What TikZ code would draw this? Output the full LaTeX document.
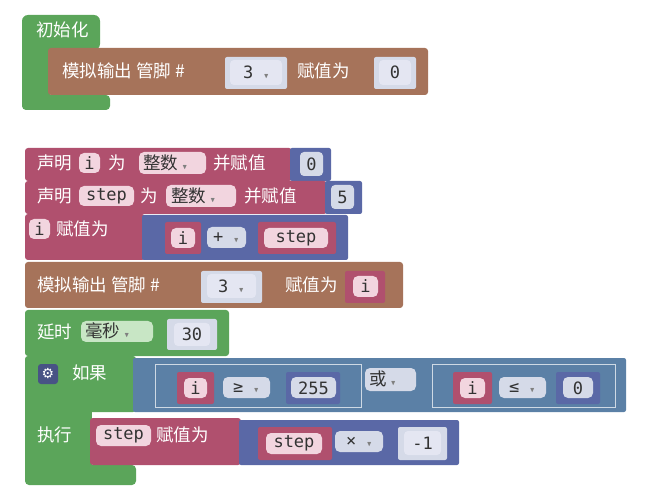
\documentclass[tikz,border=0pt]{standalone}
\usepackage{amssymb}
\usepackage{fontspec}
\setmainfont{Noto Sans CJK SC}
\newfontfamily\mono{DejaVu Sans Mono}
\newfontfamily\dvs{DejaVu Sans}
\definecolor{mag}{HTML}{B0506E}
\definecolor{blu}{HTML}{5A68A6}
\definecolor{brn}{HTML}{A6735A}
\definecolor{grn}{HTML}{5BA55A}
\definecolor{ifblu}{HTML}{5B80A6}
\definecolor{pinkf}{HTML}{F2D5DF}
\definecolor{greyf}{HTML}{D5DAE8}
\definecolor{bluf}{HTML}{E4E6F2}
\definecolor{grnf}{HTML}{C8E6C5}
\newcommand{\dd}{{\scriptsize\color{gray}$\blacktriangledown$}}
\begin{document}
\begin{tikzpicture}[x=1pt,y=-1pt,
  lbl/.style={text=white,font=\fontsize{17.5}{17.5}\selectfont,anchor=west,inner sep=0},
  ftxt/.style={font=\mono\fontsize{17}{17}\selectfont,text=black!80,inner sep=0}]
\useasboundingbox (0,0) rectangle (649,500);
% init
\fill[grn,rounded corners=6pt] (22,15) rectangle (100,50);
\fill[grn,rounded corners=6pt] (22,40) rectangle (50,110);
\fill[grn,rounded corners=4pt] (22,95) rectangle (110,110);
\node[lbl] (init) at (36,30) {初始化};
\fill[brn,rounded corners=3pt] (48,48) rectangle (428,95);
\node[lbl] (ao1) at (62,71) {模拟输出 管脚 \#};
\fill[greyf,rounded corners=2pt] (225,57) rectangle (287,89);
\fill[bluf,rounded corners=4pt] (230,60) rectangle (282,85);
\node[ftxt] (p1) at (256,72) {3 \dd};
\node[lbl] (as1) at (297,71) {赋值为};
\fill[greyf,rounded corners=2pt] (374,57) rectangle (416,89);
\fill[bluf,rounded corners=4pt] (379,60) rectangle (411,85);
\node[ftxt] (v1) at (395,72) {0};
% declare i
\fill[mag,rounded corners=3pt] (25,148) rectangle (292,181);
\fill[blu,rounded corners=2pt] (290,148) rectangle (331,181);
\node[lbl] (d1) at (37,163) {声明};
\fill[pinkf,rounded corners=5pt] (79,153) rectangle (100,173);
\node[ftxt] (d1i) at (89.5,163) {i};
\node[lbl] (d1w) at (108,163) {为};
\fill[pinkf,rounded corners=5pt] (139,152) rectangle (206,174);
\node[lbl,text=black!80] (d1t) at (143,163) {整数 \dd};
\node[lbl] (d1a) at (213,163) {并赋值};
\fill[greyf,rounded corners=4pt] (300,152) rectangle (323,176);
\node[ftxt] (d1v) at (311.5,164) {0};
% declare step
\fill[mag,rounded corners=3pt] (25,181) rectangle (327,214);
\fill[blu,rounded corners=2pt] (325,181) rectangle (362,214);
\node[lbl] (d2) at (37,196) {声明};
\fill[pinkf,rounded corners=5pt] (79,186) rectangle (134,206);
\node[ftxt] (d2s) at (106.5,196) {step};
\node[lbl] (d2w) at (140,196) {为};
\fill[pinkf,rounded corners=5pt] (166,185) rectangle (236,207);
\node[lbl,text=black!80] (d2t) at (171,196) {整数 \dd};
\node[lbl] (d2a) at (244,196) {并赋值};
\fill[greyf,rounded corners=4pt] (331,185) rectangle (354,209);
\node[ftxt] (d2v) at (342.5,197) {5};
% i assign
\fill[mag,rounded corners=3pt] (25,214) rectangle (145,260);
\fill[blu,rounded corners=2pt] (142,215) rectangle (348,260);
\fill[pinkf,rounded corners=5pt] (29,219) rectangle (50,239);
\node[ftxt] (ai) at (39.5,229) {i};
\node[lbl] (aw) at (56,229) {赋值为};
\fill[mag,rounded corners=2pt] (165,222) rectangle (201,254);
\fill[pinkf,rounded corners=5pt] (171,228) rectangle (195,248);
\node[ftxt] (ai2) at (183,238) {i};
\fill[greyf,rounded corners=5pt] (207,227) rectangle (246,248);
\node[ftxt] (aop) at (226,238) {+ \dd};
\fill[mag,rounded corners=2pt] (258,222) rectangle (336,254);
\fill[pinkf,rounded corners=5pt] (264,228) rectangle (328,248);
\node[ftxt] (as) at (296,238) {step};
% analog 2
\fill[brn,rounded corners=3pt] (25,262) rectangle (403,308);
\node[lbl] (ao2) at (37,285) {模拟输出 管脚 \#};
\fill[greyf,rounded corners=2pt] (201,271) rectangle (262,303);
\fill[bluf,rounded corners=4pt] (207,274) rectangle (256,298);
\node[ftxt] (p2) at (231,286) {3 \dd};
\node[lbl] (as2) at (285,285) {赋值为};
\fill[mag,rounded corners=2pt] (345,271) rectangle (385,303);
\fill[pinkf,rounded corners=5pt] (353,276) rectangle (378,297);
\node[ftxt] (v2) at (365.5,286) {i};
% delay
\fill[grn,rounded corners=3pt] (25,310) rectangle (229,356);
\node[lbl] (dl) at (37,332) {延时};
\fill[grnf,rounded corners=5pt] (81,321) rectangle (153,342);
\node[lbl,text=black!80] (dlu) at (85,331) {毫秒 \dd};
\fill[greyf,rounded corners=2pt] (167,319) rectangle (217,350);
\fill[bluf,rounded corners=4pt] (174,323) rectangle (210,346);
\node[ftxt] (dlv) at (192,334) {30};
% if
\fill[grn,rounded corners=3pt] (25,356) rectangle (136,412);
\fill[grn] (25,405) rectangle (92,475);
\fill[grn,rounded corners=4pt] (25,465) rectangle (136,485);
\fill[ifblu,rounded corners=2pt] (133,358) rectangle (626,412);
\fill[blu!80!black,rounded corners=3pt] (38,364) rectangle (58,384);
\node[text=white,inner sep=0,font=\dvs\fontsize{14}{14}\selectfont] (gear) at (48,374) {⚙};
\node[lbl] (ru) at (72,373) {如果};
\draw[white!70!ifblu] (155,364) rectangle (361,407);
\draw[white!70!ifblu] (432,364) rectangle (615,407);
\fill[mag,rounded corners=2pt] (177,372) rectangle (214,404);
\fill[pinkf,rounded corners=5pt] (184,378) rectangle (207,398);
\node[ftxt] (c1i) at (195.5,388) {i};
\fill[greyf,rounded corners=5pt] (223,377) rectangle (270,398);
\node[ftxt] (c1o) at (246,388) {≥ \dd};
\fill[blu,rounded corners=2pt] (286,372) rectangle (340,404);
\fill[greyf,rounded corners=5pt] (291,377) rectangle (336,398);
\node[ftxt] (c1v) at (313.5,388) {255};
\fill[greyf,rounded corners=5pt] (365,368) rectangle (416,391);
\node[lbl,text=black!80] (or) at (369,379) {或 \dd};
\fill[mag,rounded corners=2pt] (453,372) rectangle (492,404);
\fill[pinkf,rounded corners=5pt] (460,378) rectangle (485,398);
\node[ftxt] (c2i) at (472.5,388) {i};
\fill[greyf,rounded corners=5pt] (499,377) rectangle (546,398);
\node[ftxt] (c2o) at (522,388) {≤ \dd};
\fill[blu,rounded corners=2pt] (556,372) rectangle (600,404);
\fill[greyf,rounded corners=5pt] (563,377) rectangle (593,398);
\node[ftxt] (c2v) at (578,388) {0};
% do
\node[lbl] (ex) at (37,435) {执行};
\fill[mag,rounded corners=3pt] (90,418) rectangle (241,465);
\fill[blu,rounded corners=2pt] (239,420) rectangle (459,465);
\fill[pinkf,rounded corners=5pt] (96,425) rectangle (151,446);
\node[ftxt] (es) at (123.5,435.5) {step};
\node[lbl] (ew) at (156,435) {赋值为};
\fill[mag,rounded corners=2pt] (258,427) rectangle (332,460);
\fill[pinkf,rounded corners=5pt] (266,433) rectangle (322,454);
\node[ftxt] (es2) at (294,443.5) {step};
\fill[greyf,rounded corners=5pt] (335,431) rectangle (383,452);
\node[ftxt] (eo) at (359,442) {× \dd};
\fill[greyf,rounded corners=2pt] (398,427) rectangle (447,460);
\fill[bluf,rounded corners=4pt] (404,431) rectangle (441,455);
\node[ftxt] (ev) at (422.5,443) {-1};
\end{tikzpicture}
\end{document}
